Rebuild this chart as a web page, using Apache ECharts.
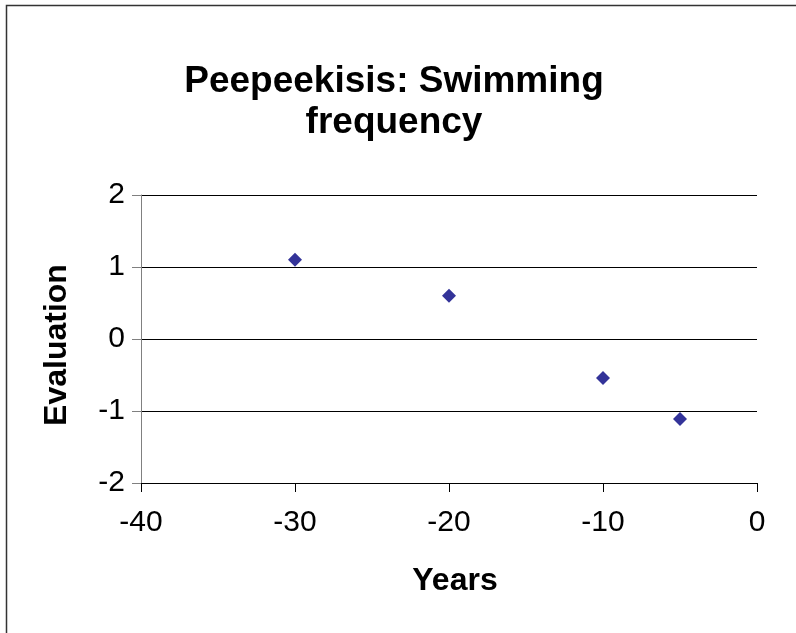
<!DOCTYPE html>
<html>
<head>
<meta charset="utf-8">
<script src="https://cdn.jsdelivr.net/npm/echarts@6/dist/echarts.min.js"></script>
<style>
  html, body { margin: 0; padding: 0; background: #fff; }
  #chart { width: 796px; height: 633px; }
</style>
</head>
<body>
<div id="chart"></div>
<script>
const titleText = 'Peepeekisis: Swimming\nfrequency';
const xTitle = 'Years';
const yTitle = 'Evaluation';
const years = [-30, -20, -10, -5];
const evaluations = [1.1, 0.6, -0.54, -1.11];

const chart = echarts.init(document.getElementById('chart'), null, { renderer: 'canvas' });
const fontFam = 'Arial, "Liberation Sans", sans-serif';

chart.setOption({
  animation: false,
  backgroundColor: '#ffffff',
  graphic: [{
    type: 'rect',
    shape: { x: 6.5, y: 5.5, width: 820, height: 660 },
    style: { fill: 'none', stroke: '#333', lineWidth: 1.5 },
    silent: true
  }],
  title: {
    text: titleText,
    left: 394,
    top: 61,
    padding: 0,
    textAlign: 'center',
    textStyle: { fontFamily: fontFam, fontSize: 37, fontWeight: 'bold', color: '#000', lineHeight: 41 }
  },
  grid: { left: 141, right: 39, top: 195, bottom: 150, containLabel: false },
  xAxis: {
    type: 'value', min: -40, max: 0, interval: 10,
    name: xTitle, nameLocation: 'middle', nameGap: 82,
    nameTextStyle: { fontFamily: fontFam, fontSize: 32, fontWeight: 'bold', color: '#000', padding: [0, 0, 0, 12] },
    axisLine: { onZero: false, lineStyle: { color: '#000', width: 1 } },
    axisTick: { show: true, length: 9, inside: false, lineStyle: { color: '#000' } },
    axisLabel: { fontFamily: fontFam, fontSize: 30, color: '#000', margin: 25 },
    splitLine: { show: false }
  },
  yAxis: {
    type: 'value', min: -2, max: 2, interval: 1,
    name: yTitle, nameLocation: 'middle', nameGap: 68, nameRotate: 90,
    nameTextStyle: { fontFamily: fontFam, fontSize: 32, fontWeight: 'bold', color: '#000', padding: [0, 12, 0, 0] },
    axisLine: { show: true, onZero: false, lineStyle: { color: '#808080', width: 1 } },
    axisTick: { show: true, length: 9, inside: false, lineStyle: { color: '#808080' } },
    axisLabel: { fontFamily: fontFam, fontSize: 30, color: '#000', margin: 16, padding: [5, 0, 0, 0] },
    splitLine: { show: true, lineStyle: { color: '#000', width: 1 } }
  },
  series: [{
    type: 'scatter',
    data: years.map((y, i) => [y, evaluations[i]]),
    symbol: 'diamond',
    symbolSize: 14,
    itemStyle: { color: '#000080' }
  }]
});
</script>
</body>
</html>
